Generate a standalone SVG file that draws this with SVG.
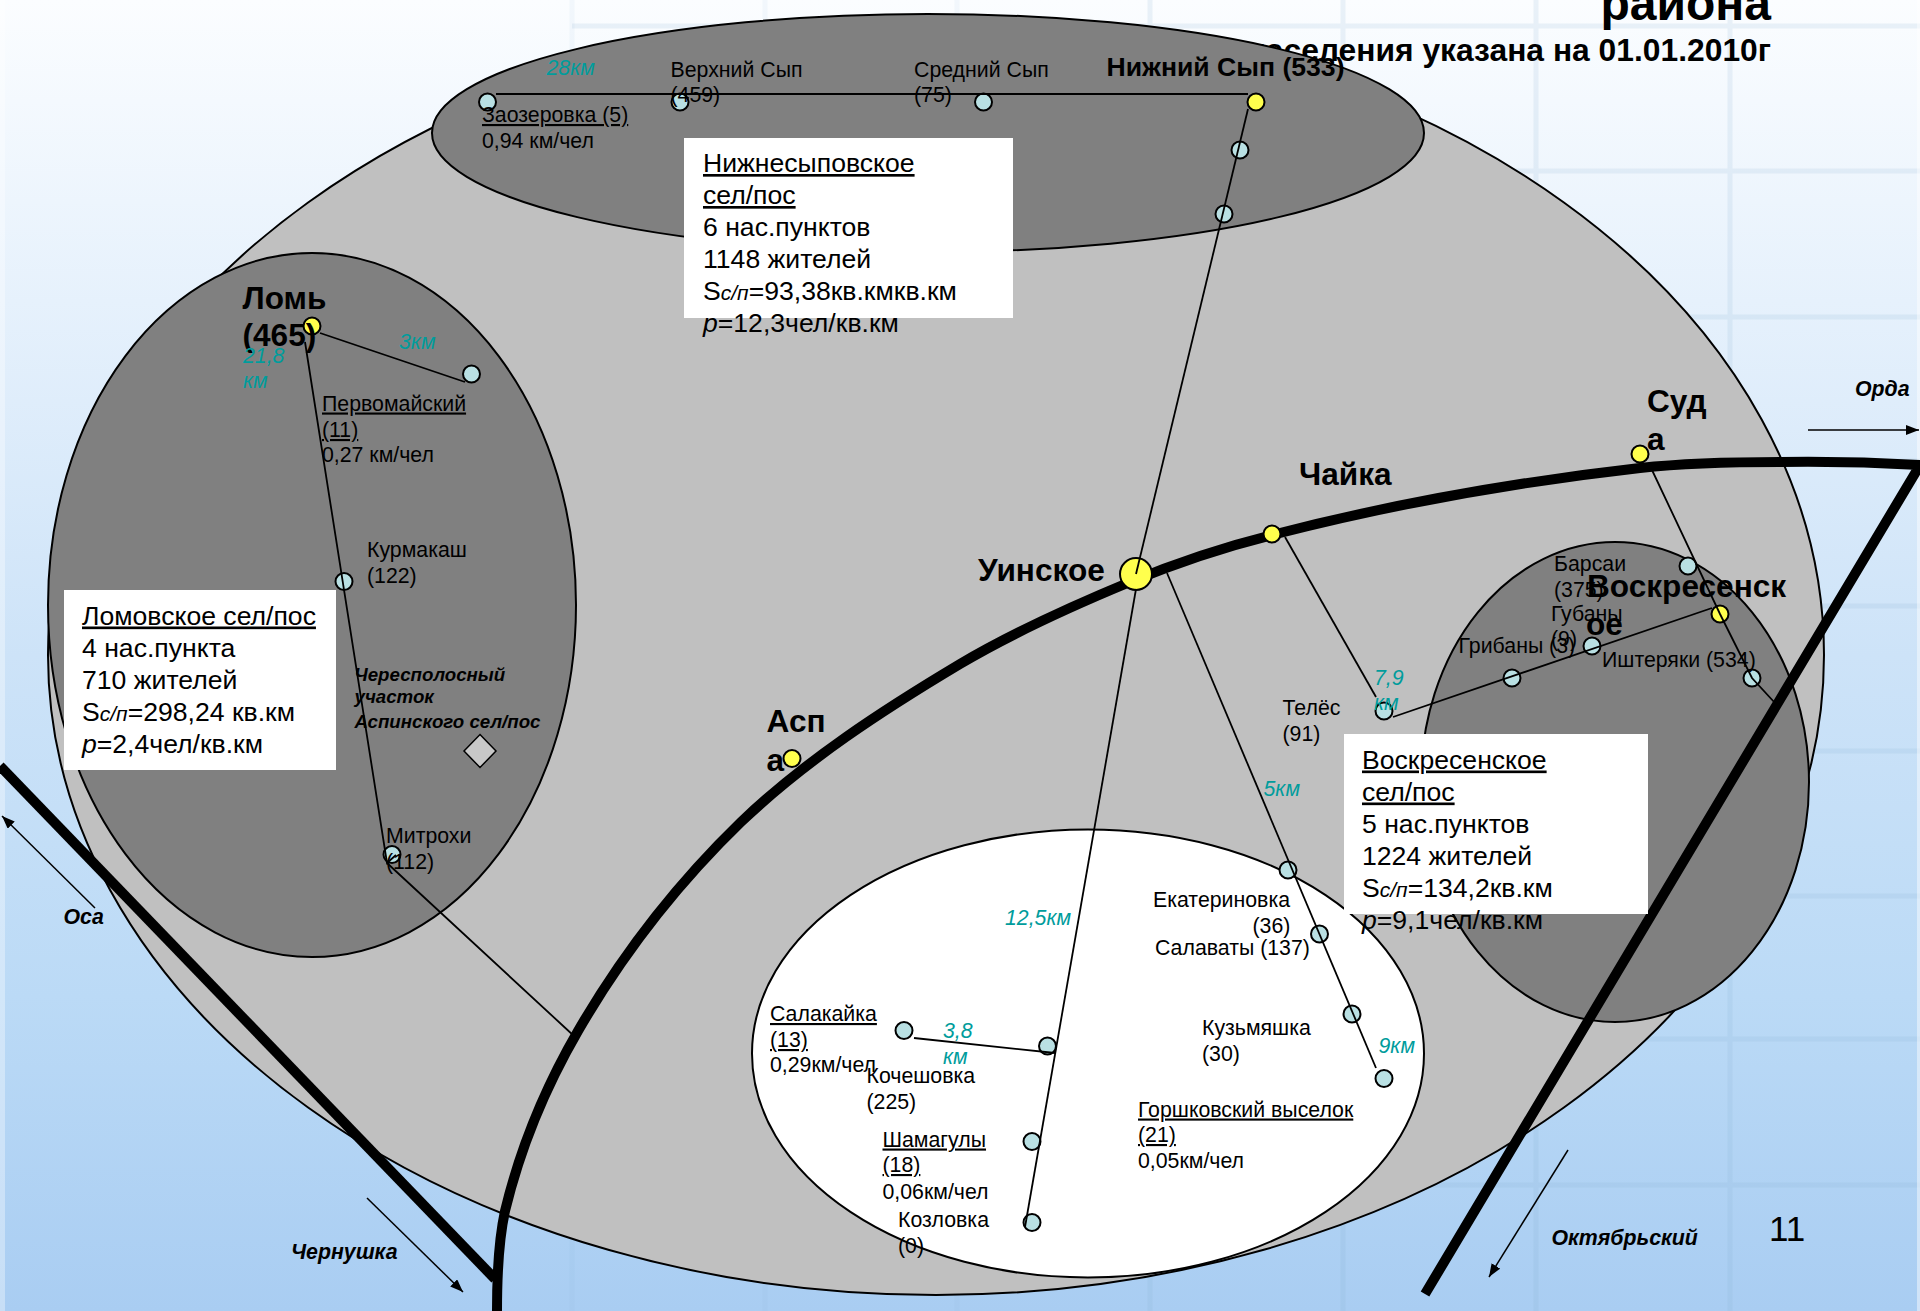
<svg xmlns="http://www.w3.org/2000/svg" width="1920" height="1311" viewBox="0 0 1920 1311">
<style>
text{font-family:"Liberation Sans",Arial,sans-serif;fill:#000}
.l{font-size:21.3px}
.bb{font-size:31.6px;font-weight:bold}
.nb{font-size:26.6px;font-weight:bold}
.t{font-size:21.3px;font-style:italic;fill:#009c9c}
.x{font-size:26.6px}
.u{text-decoration:underline}
.s{font-size:21px;font-style:italic}
.it{font-style:italic}
.d{font-size:21.3px;font-weight:bold;font-style:italic}
.e{stroke:#000;stroke-width:2}
.dark{fill:#808080}
.n{fill:#b9e0e3;stroke:#000;stroke-width:2}
.y{fill:#ffff4d;stroke:#000;stroke-width:2}
.c{stroke:#000;stroke-width:1.8;fill:none}
.r{stroke:#000;stroke-width:10;fill:none}
.a{stroke:#000;stroke-width:1.5;fill:none;marker-end:url(#ah)}
.g{stroke:#7fa8d0;stroke-width:5;fill:none;opacity:.14}
.f{opacity:.07}
</style>
<defs>
<linearGradient id="bg" x1="0" y1="0" x2="0" y2="1">
<stop offset="0" stop-color="#fbfdff"/><stop offset=".23" stop-color="#e6f1fc"/><stop offset=".5" stop-color="#cde3f8"/><stop offset=".76" stop-color="#bbdaf6"/><stop offset="1" stop-color="#a9cdf2"/>
</linearGradient>
<marker id="ah" markerUnits="userSpaceOnUse" markerWidth="14" markerHeight="12" refX="13" refY="5" orient="auto"><path d="M0 0L13 5L0 10Z" fill="#000"/></marker>
</defs>
<g id="background">
<rect width="1920" height="1311" fill="url(#bg)"/>
<path class="g f" d="M572 0V1311M765 0V1311M957 0V1311"/>
<path class="g" d="M1150 0V1311M1343 0V1311M1536 0V1311M1730 0V1311M572 26H1920M957 171H1920M957 317H1920M957 461H1920M957 606H1920M957 751H1920M957 896H1920M957 1039H1920M957 1185H1920"/>
<rect width="5" height="1311" fill="#fff" opacity=".35"/>
<rect x="1917" width="3" height="1311" fill="#fff" opacity=".45"/>
</g>
<g id="title">
<text x="1771" y="20" text-anchor="end" style="font-size:48px;font-weight:bold">района</text>
<text x="1771" y="61" text-anchor="end" style="font-size:31.8px;font-weight:bold">населения указана на 01.01.2010г</text>
</g>
<g id="district"><ellipse class="e" cx="936" cy="655" rx="888" ry="640" fill="#c0c0c0"/></g>
<g id="area-nizhnesyp"><ellipse class="e dark" cx="928" cy="133" rx="496" ry="119"/></g>
<g id="area-lomovskoe"><ellipse class="e dark" cx="312" cy="605" rx="264" ry="352"/></g>
<g id="area-voskresenskoe"><ellipse class="e dark" cx="1615" cy="782" rx="194" ry="240"/></g>
<g id="area-uinskoe"><ellipse class="e" cx="1088" cy="1053.5" rx="336" ry="224" fill="#fff"/></g>
<g id="roads">
<path class="r" d="M497 1311C497 1278 498 1243 505 1211C520 1149 545.5 1087 578 1031C622 955 678 883 741 822C806 760 883 710 960 664C1014 632 1072 606 1130 582C1176 563 1224 547 1272 535C1392 504 1516 482 1640 468C1686 463 1733 462 1780 462Q1850 461 1920 465L1425 1294"/>
<path class="r" d="M0 766L495 1279"/>
</g>
<g id="box-nizhnesyp">
<rect x="684" y="138" width="329" height="180" fill="#fff"/>
<text class="x u" x="703" y="172">Нижнесыповское</text>
<text class="x u" x="703" y="204">сел/пос</text>
<text class="x" x="703" y="236">6 нас.пунктов</text>
<text class="x" x="703" y="268">1148 жителей</text>
<text class="x" x="703" y="300">S<tspan class="s">с/п</tspan>=93,38кв.кмкв.км</text>
<text class="x" x="703" y="332"><tspan class="it">p</tspan>=12,3чел/кв.км</text>
</g>
<g id="box-lomovskoe">
<rect x="64" y="590" width="272" height="180" fill="#fff"/>
<text class="x u" x="82" y="624.5">Ломовское сел/пос</text>
<text class="x" x="82" y="656.5">4 нас.пункта</text>
<text class="x" x="82" y="688.5">710 жителей</text>
<text class="x" x="82" y="720.5">S<tspan class="s">с/п</tspan>=298,24 кв.км</text>
<text class="x" x="82" y="752.5"><tspan class="it">p</tspan>=2,4чел/кв.км</text>
</g>
<g id="box-voskresenskoe">
<rect x="1344" y="734" width="304" height="180" fill="#fff"/>
<text class="x u" x="1362" y="768.5">Воскресенское</text>
<text class="x u" x="1362" y="800.5">сел/пос</text>
<text class="x" x="1362" y="832.5">5 нас.пунктов</text>
<text class="x" x="1362" y="864.5">1224 жителей</text>
<text class="x" x="1362" y="896.5">S<tspan class="s">с/п</tspan>=134,2кв.км</text>
<text class="x" x="1362" y="928.5"><tspan class="it">p</tspan>=9,1чел/кв.км</text>
</g>
<g id="node-zaozerovka"><circle class="n" cx="487.5" cy="102" r="8.5"/><text class="l u" x="482" y="122">Заозеровка (5)</text><text class="l" x="482" y="148">0,94 км/чел</text></g>
<g id="node-verkhniy-syp"><circle class="n" cx="680" cy="102" r="8.5"/><text class="l" x="670.5" y="76.5">Верхний Сып</text><text class="l" x="670.5" y="102">(459)</text></g>
<g id="node-sredniy-syp"><circle class="n" cx="983.5" cy="102" r="8.5"/><text class="l" x="914" y="76.5">Средний Сып</text><text class="l" x="914" y="102">(75)</text></g>
<g id="node-nizhniy-syp"><circle class="y" cx="1256" cy="102" r="8.5"/><text class="nb" x="1106.5" y="76">Нижний Сып (533)</text></g>
<g id="node-syp-a"><circle class="n" cx="1240" cy="150" r="8.5"/></g>
<g id="node-syp-b"><circle class="n" cx="1224" cy="214" r="8.5"/></g>
<g id="node-lom"><circle class="y" cx="312" cy="326" r="8.5"/><text class="bb" x="242.5" y="309">Ломь</text><text class="bb" x="242.5" y="346">(465)</text></g>
<g id="node-pervomaiskiy"><circle class="n" cx="471.5" cy="374" r="8.5"/><text class="l u" x="322" y="410.5">Первомайский</text><text class="l u" x="322" y="437">(11)</text><text class="l" x="322" y="462">0,27 км/чел</text></g>
<g id="node-kurmakash"><circle class="n" cx="344" cy="581.5" r="8.5"/><text class="l" x="367" y="557">Курмакаш</text><text class="l" x="367" y="583">(122)</text></g>
<g id="node-mitrokhi"><circle class="n" cx="392" cy="854.5" r="8.5"/><text class="l" x="386" y="843">Митрохи</text><text class="l" x="386" y="868.5">(112)</text></g>
<g id="node-aspinskoe-strip"><path d="M480 734.5L496 751L480 767.5L464 751Z" fill="#c8c8c8" stroke="#000" stroke-width="1.5"/>
<text class="d" style="font-size:18.7px" x="354.5" y="680.5">Чересполосный</text><text class="d" style="font-size:18.7px" x="354.5" y="702.5">участок</text><text class="d" style="font-size:18.7px" x="354.5" y="727.5">Аспинского сел/пос</text></g>
<g id="node-aspa"><circle class="y" cx="792" cy="758.5" r="8.5"/><text class="bb" x="766.5" y="732">Асп</text><text class="bb" x="766.5" y="771">а</text></g>
<g id="node-uinskoe"><circle class="y" cx="1136" cy="574" r="16"/><text class="bb" x="978" y="581">Уинское</text></g>
<g id="node-chaika"><circle class="y" cx="1272" cy="534" r="8.5"/><text class="bb" x="1299" y="485">Чайка</text></g>
<g id="node-suda"><circle class="y" cx="1640" cy="454" r="8.5"/><text class="bb" x="1647" y="412">Суд</text><text class="bb" x="1647" y="450">а</text></g>
<g id="node-barsai"><circle class="n" cx="1688" cy="566" r="8.5"/><text class="l" x="1554" y="571">Барсаи</text><text class="l" x="1554" y="596.5">(375)</text></g>
<g id="node-voskresenskoe"><circle class="y" cx="1720" cy="614" r="8.5"/><text class="bb" x="1587" y="597">Воскресенск</text><text class="bb" x="1586" y="635">ое</text></g>
<g id="node-gubany"><circle class="n" cx="1592" cy="646" r="8.5"/><text class="l" x="1551" y="620.5">Губаны</text><text class="l" x="1551" y="646">(9)</text></g>
<g id="node-gribany"><circle class="n" cx="1512" cy="678" r="8.5"/><text class="l" x="1458.5" y="652.5">Грибаны (3)</text></g>
<g id="node-ishteryaki"><circle class="n" cx="1752" cy="678" r="8.5"/><text class="l" x="1602" y="666.5">Иштеряки (534)</text></g>
<g id="node-teles"><circle class="n" cx="1384" cy="711" r="8.5"/><text class="l" x="1282.5" y="714.5">Телёс</text><text class="l" x="1282.5" y="740.5">(91)</text></g>
<g id="node-ekaterinovka"><circle class="n" cx="1288" cy="870" r="8.5"/><text class="l" x="1153" y="907">Екатериновка</text><text class="l" x="1252.5" y="933">(36)</text></g>
<g id="node-salavaty"><circle class="n" cx="1319.5" cy="934" r="8.5"/><text class="l" x="1155" y="954.5">Салаваты (137)</text></g>
<g id="node-kuzmyashka"><circle class="n" cx="1352" cy="1014" r="8.5"/><text class="l" x="1202" y="1034.5">Кузьмяшка</text><text class="l" x="1202" y="1060.5">(30)</text></g>
<g id="node-gorshkovskiy"><circle class="n" cx="1384" cy="1078.5" r="8.5"/><text class="l u" x="1138" y="1116.5">Горшковский выселок</text><text class="l u" x="1138" y="1142">(21)</text><text class="l" x="1138" y="1167.5">0,05км/чел</text></g>
<g id="node-salakayka"><circle class="n" cx="904" cy="1030.5" r="8.5"/><text class="l u" x="770" y="1021">Салакайка</text><text class="l u" x="770" y="1047">(13)</text><text class="l" x="770" y="1072">0,29км/чел</text></g>
<g id="node-kocheshovka"><circle class="n" cx="1047.5" cy="1046" r="8.5"/><text class="l" x="866.5" y="1083">Кочешовка</text><text class="l" x="866.5" y="1109">(225)</text></g>
<g id="node-shamaguly"><circle class="n" cx="1032" cy="1141.5" r="8.5"/><text class="l u" x="882.5" y="1146.5">Шамагулы</text><text class="l u" x="882.5" y="1172">(18)</text><text class="l" x="882.5" y="1198.5">0,06км/чел</text></g>
<g id="node-kozlovka"><circle class="n" cx="1032" cy="1222.5" r="8.5"/><text class="l" x="898" y="1227">Козловка</text><text class="l" x="898" y="1253">(0)</text></g>
<g id="connectors">
<path class="c" d="M496 94H1248"/>
<path class="c" d="M1248 109L1136 574"/>
<path class="c" d="M1136 589L1025 1227"/>
<path class="c" d="M320 333L465 382"/>
<path class="c" d="M305 342L387 863L396 855M387 863L574 1036"/>
<path class="c" d="M1167 573L1376 1068"/>
<path class="c" d="M1285 537L1376 697"/>
<path class="c" d="M1393 717L1712 608"/>
<path class="c" d="M1652 470L1720 614L1752 678L1775 703"/>
<path class="c" d="M914 1038L1055 1053"/>
<path class="a" d="M95 908L2 816"/>
<path class="a" d="M367 1198L463 1292"/>
<path class="a" d="M1808 430H1919"/>
<path class="a" d="M1568 1150L1489 1277"/>
</g>
<g id="distance-labels">
<text class="t" x="546.5" y="74.5">28км</text>
<text class="t" x="243" y="362.5">21,8</text><text class="t" x="243" y="388">км</text>
<text class="t" x="399" y="348.5">3км</text>
<text class="t" x="1374" y="684.5">7,9</text><text class="t" x="1374" y="710">км</text>
<text class="t" x="1263.5" y="796">5км</text>
<text class="t" x="1005" y="925">12,5км</text>
<text class="t" x="1378.5" y="1052.5">9км</text>
<text class="t" x="943" y="1037.5">3,8</text><text class="t" x="943" y="1063.5">км</text>
</g>
<g id="direction-labels">
<text class="d" x="63.5" y="924">Оса</text>
<text class="d" x="291" y="1258.5">Чернушка</text>
<text class="d" x="1855" y="396">Орда</text>
<text class="d" x="1551.5" y="1245">Октябрьский</text>
</g>
<g id="page-number"><text x="1769" y="1241" style="font-size:35px">11</text></g>
</svg>
